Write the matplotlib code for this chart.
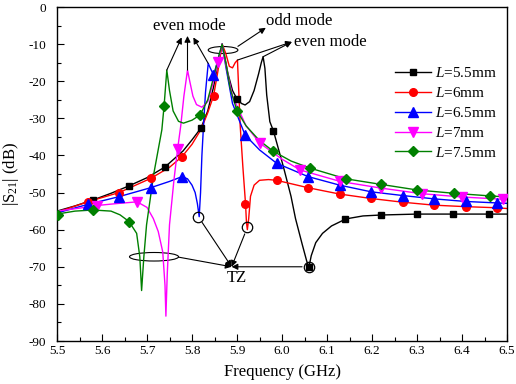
import matplotlib
matplotlib.use("Agg")
import matplotlib.pyplot as plt
from matplotlib.patches import Ellipse
from matplotlib.ticker import MultipleLocator

plt.rcParams['font.family'] = ['Liberation Serif', 'DejaVu Serif']
plt.rcParams['mathtext.fontset'] = 'custom'
plt.rcParams['mathtext.rm'] = 'Liberation Serif'
plt.rcParams['mathtext.it'] = 'Liberation Serif:italic'
plt.rcParams['axes.unicode_minus'] = False

# ---------------- data ----------------
# L = 5.5 mm (black)
f_55 = [5.50, 5.54, 5.58, 5.62, 5.66, 5.70, 5.74, 5.78, 5.80, 5.82, 5.835, 5.848, 5.858, 5.867,
        5.872, 5.88, 5.89, 5.90, 5.91, 5.918, 5.928, 5.938, 5.948, 5.954, 5.958, 5.962, 5.966,
        5.973, 5.981, 6.003, 6.02, 6.03, 6.045, 6.055, 6.06, 6.065, 6.075, 6.09, 6.11, 6.142,
        6.18, 6.22, 6.30, 6.40, 6.50]
s_55 = [-55.0, -53.6, -52.0, -50.2, -48.2, -46.0, -43.1, -38.8, -35.8, -32.6, -28.0, -21.5, -15.0, -10.0,
        -13.0, -18.0, -22.5, -24.8, -26.0, -26.4, -25.5, -22.5, -18.0, -15.0, -13.4, -16.5, -23.7,
        -30.9, -33.4, -43.0, -51.0, -57.0, -64.0, -68.5, -70.0, -67.0, -63.5, -61.0, -59.0, -57.1,
        -56.3, -56.05, -55.8, -55.8, -55.8]
mf_55 = [5.58, 5.66, 5.74, 5.82, 5.90, 5.98, 6.06, 6.14, 6.22, 6.30, 6.38, 6.46]
ms_55 = [-52.0, -48.2, -43.1, -32.6, -24.8, -33.4, -70.0, -57.1, -56.05, -55.8, -55.8, -55.8]

# L = 6 mm (red)
f_6 = [5.50, 5.568, 5.638, 5.708, 5.75, 5.778, 5.80, 5.82, 5.835, 5.848, 5.858, 5.867,
       5.875, 5.883, 5.89, 5.896, 5.901, 5.903, 5.907, 5.913, 5.919, 5.921, 5.923, 5.926,
       5.93, 5.938, 5.95, 5.97, 5.988, 6.058, 6.128, 6.198, 6.268, 6.338, 6.408, 6.478, 6.50]
s_6 = [-55.3, -52.5, -50.0, -46.2, -43.2, -40.3, -37.0, -33.0, -28.5, -23.9, -17.0, -10.0,
       -12.5, -16.0, -16.4, -15.0, -14.3, -20.0, -31.8, -43.0, -53.1, -58.0, -60.0, -57.0,
       -51.0, -48.0, -46.7, -46.5, -46.7, -48.7, -50.4, -51.6, -52.6, -53.4, -53.8, -54.1, -54.3]
mf_6 = [5.568, 5.638, 5.708, 5.778, 5.848, 5.918, 5.988, 6.058, 6.128, 6.198, 6.268, 6.338, 6.408, 6.478]
ms_6 = [-52.5, -50.0, -46.2, -40.3, -23.9, -53.1, -46.7, -48.7, -50.4, -51.6, -52.6, -53.4, -53.8, -54.1]

# L = 6.5 mm (blue)
f_65 = [5.50, 5.568, 5.638, 5.708, 5.75, 5.778, 5.79, 5.80, 5.807, 5.812, 5.816, 5.819,
        5.822, 5.826, 5.83, 5.836, 5.842, 5.848, 5.856, 5.867, 5.875, 5.89, 5.918, 5.95,
        5.988, 6.058, 6.128, 6.198, 6.268, 6.338, 6.408, 6.478, 6.50]
s_65 = [-55.5, -53.2, -51.1, -48.7, -47.0, -45.7, -46.3, -48.0, -50.0, -53.0, -56.5, -50.0,
        -40.0, -31.0, -23.0, -15.2, -16.8, -18.3, -15.0, -10.0, -16.0, -26.0, -34.5, -38.5,
        -42.1, -45.7, -48.0, -49.8, -50.8, -51.7, -52.4, -52.8, -52.9]
mf_65 = [5.568, 5.638, 5.708, 5.778, 5.847, 5.918, 5.988, 6.058, 6.128, 6.198, 6.268, 6.338, 6.408, 6.478]
ms_65 = [-53.2, -51.1, -48.7, -45.7, -18.3, -34.5, -42.1, -45.7, -48.0, -49.8, -50.8, -51.7, -52.4, -52.8]

# L = 7 mm (magenta)
f_7 = [5.50, 5.55, 5.588, 5.63, 5.678, 5.70, 5.714, 5.725, 5.735, 5.740, 5.742, 5.745,
       5.748, 5.75, 5.76, 5.768, 5.775, 5.782, 5.79, 5.795, 5.802, 5.81, 5.822, 5.835,
       5.848, 5.858, 5.867, 5.875, 5.89, 5.92, 5.951, 6.00, 6.04, 6.129, 6.22, 6.31, 6.40,
       6.49, 6.50]
s_7 = [-55.0, -54.2, -53.5, -53.0, -52.5, -54.0, -57.0, -60.5, -66.0, -75.0, -83.3, -72.0,
       -64.0, -58.7, -46.5, -38.3, -32.0, -24.0, -17.0, -20.0, -24.0, -26.3, -27.0, -25.5,
       -20.0, -14.7, -10.0, -15.5, -24.0, -32.0, -36.7, -41.0, -43.9, -47.0, -48.8, -50.3, -51.2,
       -51.8, -51.9]
mf_7 = [5.588, 5.678, 5.768, 5.858, 5.951, 6.04, 6.129, 6.22, 6.31, 6.40, 6.49]
ms_7 = [-53.5, -52.5, -38.3, -14.7, -36.7, -43.9, -47.0, -48.8, -50.3, -51.2, -51.8]

# L = 7.5 mm (green)
f_75 = [5.50, 5.54, 5.58, 5.62, 5.64, 5.66, 5.677, 5.684, 5.688, 5.693, 5.699, 5.715,
        5.733, 5.738, 5.744, 5.75, 5.758, 5.77, 5.781, 5.80, 5.818, 5.835, 5.85, 5.86,
        5.867, 5.875, 5.885, 5.90, 5.92, 5.95, 5.981, 6.02, 6.062, 6.142, 6.22, 6.30,
        6.382, 6.462, 6.50]
s_75 = [-55.8, -55.0, -54.7, -55.0, -56.0, -57.8, -61.0, -67.3, -76.4, -67.3, -58.7, -45.0,
        -33.1, -26.6, -17.0, -22.5, -28.0, -30.8, -31.3, -30.5, -29.1, -25.0, -18.0, -13.0,
        -10.0, -15.0, -22.0, -28.0, -32.0, -36.0, -38.9, -41.5, -43.4, -46.3, -47.8, -49.3,
        -50.2, -50.9, -51.2]
mf_75 = [5.503, 5.58, 5.66, 5.738, 5.818, 5.90, 5.981, 6.062, 6.142, 6.22, 6.30, 6.382, 6.462]
ms_75 = [-56.0, -54.7, -57.8, -26.6, -29.1, -28.0, -38.9, -43.4, -46.3, -47.8, -49.3, -50.2, -50.9]

labels = ['$L$=5.5mm', '$L$=6mm', '$L$=6.5mm', '$L$=7mm', '$L$=7.5mm']
colors = ['black', '#FF0000', '#0000FF', '#FF00FF', '#008000']
markers = ['s', 'o', '^', 'v', 'D']
msizes = [5, 5.5, 6.5, 6.5, 5.5]

series = [(f_55, s_55, mf_55, ms_55), (f_6, s_6, mf_6, ms_6), (f_65, s_65, mf_65, ms_65),
          (f_7, s_7, mf_7, ms_7), (f_75, s_75, mf_75, ms_75)]

# transmission-zero circles
tz_f = [5.814, 5.923, 6.06]
tz_s = [-56.5, -59.4, -70.0]

# ---------------- figure ----------------
fig = plt.figure(figsize=(5.16, 3.84), dpi=100)
ax = fig.add_axes([57/516, 1-341/384, 450/516, 334/384])

handles = []
for (f, s, mf, ms), lab, c, m, sz in zip(series, labels, colors, markers, msizes):
    ax.plot(f, s, color=c, lw=1.0, zorder=2)
    ax.plot(mf, ms, ls='none', marker=m, color=c, ms=sz, zorder=3)
    h, = ax.plot([], [], color=c, lw=1.0, marker=m, ms=sz, label=lab)
    handles.append(h)

ax.plot(tz_f, tz_s, ls='none', marker='o', ms=7.5, mfc='none', mec='black', mew=0.9, zorder=4)

ax.set_xlim(5.5, 6.5)
ax.set_ylim(-90, 0)
ax.xaxis.set_major_locator(MultipleLocator(0.1))
ax.xaxis.set_minor_locator(MultipleLocator(0.05))
ax.yaxis.set_major_locator(MultipleLocator(10))
ax.yaxis.set_minor_locator(MultipleLocator(5))
ax.tick_params(which='both', direction='in', top=False, right=False, labelsize=9.5)
ax.tick_params(which='major', length=5, width=0.8)
ax.tick_params(which='minor', length=3, width=0.8)
ax.tick_params(axis='y', which='major', pad=8)
ax.tick_params(axis='x', which='major', pad=3)
ax.set_xticklabels([f'{v:.1f}' for v in ax.get_xticks()])
ax.set_xlabel('Frequency (GHz)', fontsize=12, labelpad=5)
ax.set_ylabel('|S$_{21}$| (dB)', fontsize=12, labelpad=5)
for sp in ax.spines.values():
    sp.set_linewidth(1.0)

leg = ax.legend(handles=handles, loc='upper left', bbox_to_anchor=(0.752, 0.822),
                frameon=False, fontsize=11, handlelength=2.3, handletextpad=0.3,
                labelspacing=0.38, borderpad=0, borderaxespad=0)

# ---------------- annotations ----------------
arw = dict(arrowstyle='-|>', color='black', lw=0.8, mutation_scale=9, shrinkA=0, shrinkB=0)
ax.text(5.793, -5.2, 'even mode', fontsize=12, ha='center', va='center')
ax.annotate('', xy=(5.777, -8.2), xytext=(5.744, -17.0), arrowprops=arw)
ax.annotate('', xy=(5.790, -7.8), xytext=(5.790, -17.0), arrowprops=arw)
ax.annotate('', xy=(5.803, -8.2), xytext=(5.836, -15.2), arrowprops=arw)

ax.add_patch(Ellipse((5.869, -11.6), 0.066, 1.9, fill=False, ec='black', lw=0.8))
ax.text(5.965, -3.9, 'odd mode', fontsize=12, ha='left', va='center')
ax.annotate('', xy=(5.964, -5.6), xytext=(5.902, -10.6), arrowprops=arw)

ax.text(6.026, -9.3, 'even mode', fontsize=12, ha='left', va='center')
ax.annotate('', xy=(6.022, -9.4), xytext=(5.901, -14.3), arrowprops=arw)
ax.annotate('', xy=(6.022, -9.4), xytext=(5.958, -13.4), arrowprops=arw)

ax.add_patch(Ellipse((5.7156, -67.3), 0.109, 2.3, fill=False, ec='black', lw=0.8))
tip = (5.888, -70.0)
arw2 = dict(arw, shrinkA=5)
ax.annotate('', xy=tip, xytext=(5.770, -67.4), arrowprops=dict(arw, shrinkA=0))
ax.annotate('', xy=tip, xytext=(tz_f[0], tz_s[0]), arrowprops=arw2)
ax.annotate('', xy=tip, xytext=(tz_f[1], tz_s[1]), arrowprops=arw2)
ax.annotate('', xy=tip, xytext=(tz_f[2], tz_s[2]), arrowprops=arw2)
ax.text(5.899, -73.0, 'TZ', fontsize=12, ha='center', va='center')

fig.savefig('out.png', dpi=100)
